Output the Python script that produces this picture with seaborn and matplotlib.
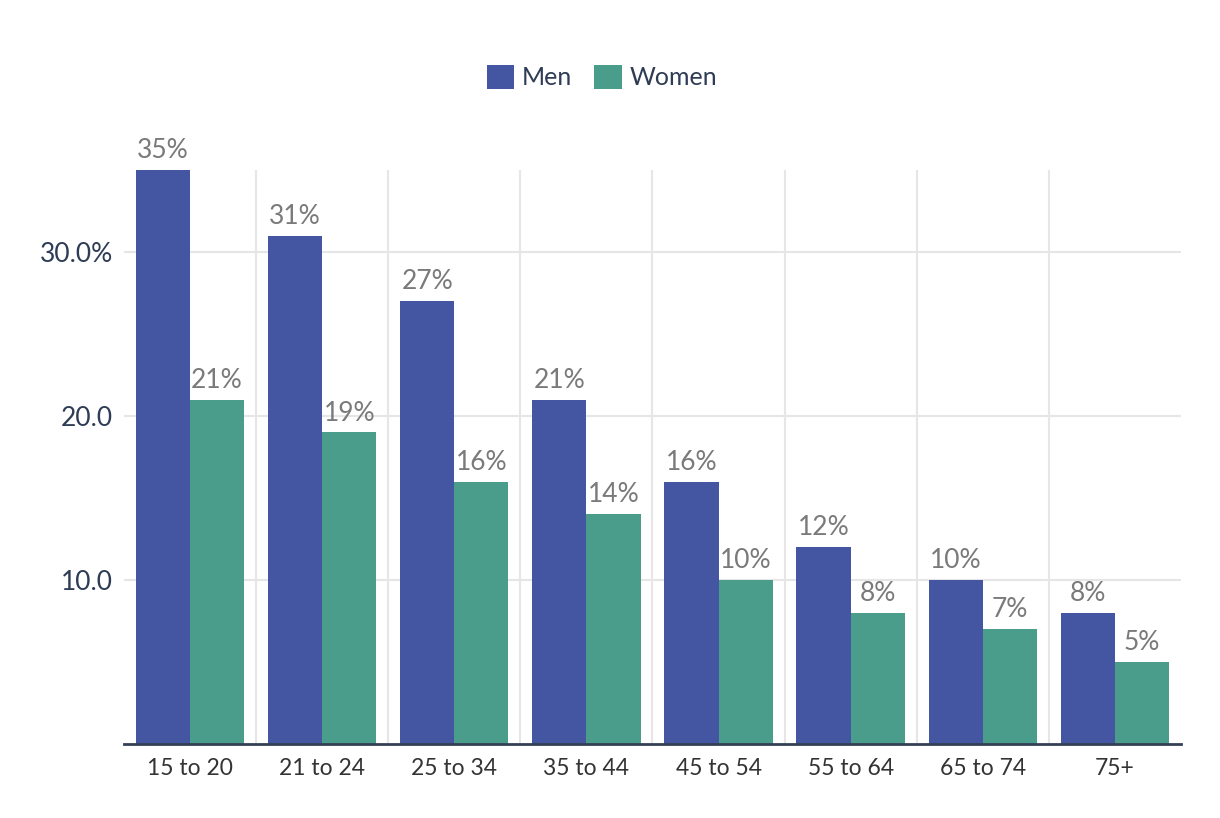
import pandas as pd
import matplotlib
matplotlib.use('Agg')
import matplotlib.pyplot as plt
import seaborn as sns

# chart data
ages = ['15 to 20', '21 to 24', '25 to 34', '35 to 44', '45 to 54', '55 to 64', '65 to 74', '75+']
men = [35, 31, 27, 21, 16, 12, 10, 8]
women = [21, 19, 16, 14, 10, 8, 7, 5]
y_ticks = [10, 20, 30]
y_tick_labels = ['10.0', '20.0', '30.0%']

df = pd.DataFrame({'Age': ages * 2,
                   'Value': men + women,
                   'Sex': ['Men'] * len(ages) + ['Women'] * len(ages)})

sns.set_style('white')
plt.rcParams['font.family'] = ['Lato', 'DejaVu Sans']

fig = plt.figure(figsize=(12.2, 8.18), dpi=100)
ax = fig.add_axes([0.1016, 0.0905, 0.8664, 0.7015])

palette = {'Men': '#4456a2', 'Women': '#4a9d8a'}
sns.barplot(data=df, x='Age', y='Value', hue='Sex', palette=palette,
            width=0.82, saturation=1, linewidth=0, ax=ax, legend=True)

# value labels
for container in ax.containers:
    ax.bar_label(container, labels=[f'{v:.0f}%' for v in container.datavalues],
                 padding=5, fontsize=19, color='#7a7a7a')

ax.set_xlim(-0.5, len(ages) - 0.5)
ax.set_ylim(0, 35)
ax.set_yticks(y_ticks)
ax.set_yticklabels(y_tick_labels)
ax.set_xticks(range(len(ages)))
ax.set_xticklabels(ages)
ax.set_xticks([i + 0.5 for i in range(len(ages) - 1)], minor=True)
ax.tick_params(axis='both', which='both', length=0)
ax.tick_params(axis='y', labelsize=19, labelcolor='#2e3c55', pad=8)
ax.tick_params(axis='x', labelsize=16.5, labelcolor='#333333', pad=10)
ax.set_axisbelow(True)
ax.grid(axis='y', which='major', color='#e6e6e6', linewidth=1.5)
ax.grid(axis='x', which='minor', color='#e6e6e6', linewidth=1.5)
ax.grid(axis='x', which='major', visible=False)
ax.set_xlabel('')
ax.set_ylabel('')
for side in ['top', 'right', 'left']:
    ax.spines[side].set_visible(False)
ax.spines['bottom'].set_color('#344054')
ax.spines['bottom'].set_linewidth(2)

leg = ax.legend(loc='center', bbox_to_anchor=(0.452, 1.162), ncol=2, frameon=False,
                fontsize=18, handlelength=1.1, handleheight=1.1, handletextpad=0.3,
                columnspacing=0.9)
for t in leg.get_texts():
    t.set_color('#2e3c55')

plt.savefig('out.png', dpi=100)
